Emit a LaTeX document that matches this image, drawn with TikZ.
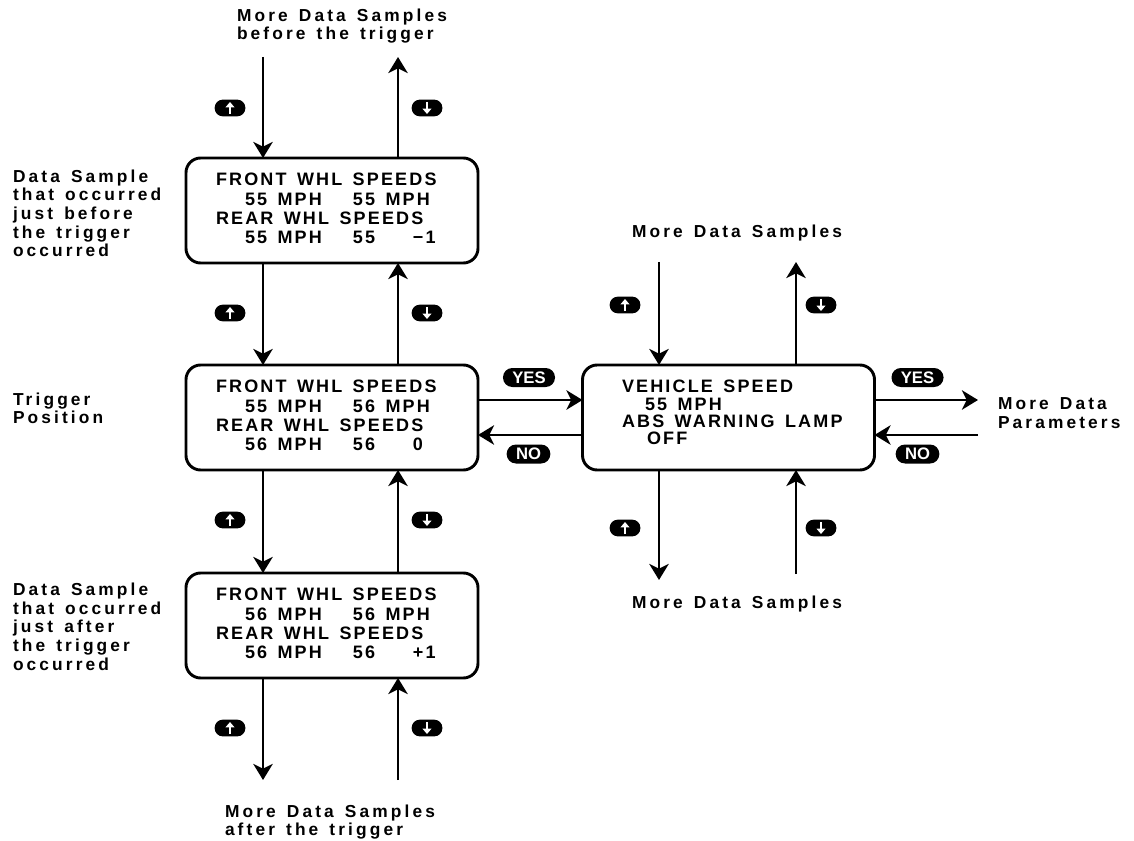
\documentclass[tikz,border=0pt]{standalone}
\usepackage{fontspec}
\usetikzlibrary{arrows.meta}
\newfontfamily\lcdfont{Liberation Sans}[LetterSpace=12,WordSpace=1.45]
\newfontfamily\notefont{Liberation Sans}[LetterSpace=18,WordSpace=1.4]
\newfontfamily\tagfont{Liberation Sans}
\setlength{\parindent}{0pt}
\definecolor{lcdInk}{HTML}{000000}
\tikzset{
  lcd diagram/.style={
    x=0.75pt, y=-0.75pt, line width=2.2pt, draw=lcdInk,
    >={Stealth[length=12pt,width=14.5pt,inset=3.5pt]},
    every node/.style={inner sep=0pt, outer sep=0pt, text=lcdInk}
  },
  lcd box/.style={draw=lcdInk, line width=2.2pt, rounded corners=11pt,
    minimum width=219pt, minimum height=78.75pt, align=left,
    font=\lcdfont\bfseries\fontsize{13.5}{14.5}\selectfont},
  lcd lamp/.style={lcd box,
    font=\lcdfont\bfseries\fontsize{13.5}{13.1}\selectfont},
  lcd note/.style={anchor=north west, align=left,
    font=\notefont\bfseries\fontsize{13}{14}\selectfont},
  lcd flow/.style={->, draw=lcdInk, line width=2.2pt},
  lcd key/.style={fill=lcdInk, rounded corners=6pt,
    minimum width=23pt, minimum height=12.5pt},
  up key/.style={lcd key, path picture={
      \draw[white, line width=1.9pt, -{Triangle[length=4pt,width=6.5pt]}]
        ([yshift=-4.5pt]path picture bounding box.center)
        -- ([yshift=4.5pt]path picture bounding box.center);}},
  down key/.style={lcd key, path picture={
      \draw[white, line width=1.9pt, -{Triangle[length=4pt,width=6.5pt]}]
        ([yshift=4.5pt]path picture bounding box.center)
        -- ([yshift=-4.5pt]path picture bounding box.center);}},
  lcd tag/.style={fill=lcdInk, text=white, rounded corners=7pt,
    minimum height=14.25pt, inner xsep=7pt,
    font=\tagfont\bfseries\fontsize{12.5}{12.5}\selectfont}
}
\newcommand{\WhlHead}[1]{\makebox[174pt][l]{#1}}
\newcommand{\WhlRow}[3]{\hspace*{21.75pt}\makebox[81pt][l]{#1}\makebox[45pt][l]{#2}#3}
\newcommand{\RowDepth}[1]{\rule[-#1]{0pt}{0pt}}

\begin{document}
\begin{tikzpicture}[lcd diagram]
    \useasboundingbox (0,0) rectangle (1134,841);
    \node[lcd box] (front1) at (332,210.5)
      {\WhlHead{FRONT WHL SPEEDS}\\\WhlRow{55 MPH}{55 MPH}{}\\REAR WHL SPEEDS\\\WhlRow{55 MPH}{55}{−1}\RowDepth{3pt}};
    \node[lcd box] (front2) at (332,417.5)
      {\WhlHead{FRONT WHL SPEEDS}\\\WhlRow{55 MPH}{56 MPH}{}\\REAR WHL SPEEDS\\\WhlRow{56 MPH}{56}{0}\RowDepth{3pt}};
    \node[lcd box] (front3) at (332,625.5)
      {\WhlHead{FRONT WHL SPEEDS}\\\WhlRow{56 MPH}{56 MPH}{}\\REAR WHL SPEEDS\\\WhlRow{56 MPH}{56}{+1}\RowDepth{3pt}};
    \node[lcd lamp] (lamp) at (728.5,417.5)
      {VEHICLE SPEED\\\hspace*{17.25pt}55 MPH\\\makebox[159.75pt][l]{ABS WARNING LAMP}\\\hspace*{18.75pt}OFF\RowDepth{7.5pt}};

    \node[lcd note] (noteBefore) at (237,8.5) {More Data Samples\\before the trigger};
    \node[lcd note] (noteAfter) at (225,804.5) {More Data Samples\\after the trigger};
    \node[lcd note] (noteSampleBefore) at (13,169.5)
      {Data Sample\\that occurred\\just before\\the trigger\\occurred};
    \node[lcd note] (noteTrigger) at (13,392.5) {Trigger\\Position};
    \node[lcd note] (noteSampleAfter) at (13,583)
      {Data Sample\\that occurred\\just after\\the trigger\\occurred};
    \node[lcd note] (noteMoreUp) at (632,224.5) {More Data Samples};
    \node[lcd note] (noteMoreDown) at (632,595.5) {More Data Samples};
    \node[lcd note] (noteParams) at (998,397.5) {More Data\\Parameters};

    \coordinate (topIn) at (263,57);
    \coordinate (topOut) at (398,57);
    \coordinate (botOut) at (263,780);
    \coordinate (botIn) at (398,780);
    \coordinate (lampIn) at (659,262);
    \coordinate (lampOut) at (796,262);
    \coordinate (lampDown) at (659,580);
    \coordinate (lampUp) at (796,574);
    \coordinate (moreOut) at (978,400);
    \coordinate (moreIn) at (978,435);
    \coordinate (yesRow) at (0,400);
    \coordinate (noRow) at (0,435);

    \draw[lcd flow] (topIn) -- (topIn |- front1.north);
    \draw[lcd flow] (front1.north -| topOut) -- (topOut);
    \draw[lcd flow] (front1.south -| topIn) -- (front2.north -| topIn);
    \draw[lcd flow] (front2.north -| topOut) -- (front1.south -| topOut);
    \draw[lcd flow] (front2.south -| topIn) -- (front3.north -| topIn);
    \draw[lcd flow] (front3.north -| topOut) -- (front2.south -| topOut);
    \draw[lcd flow] (front3.south -| botOut) -- (botOut);
    \draw[lcd flow] (botIn) -- (front3.south -| botIn);
    \draw[lcd flow] (lampIn) -- (lampIn |- lamp.north);
    \draw[lcd flow] (lamp.north -| lampOut) -- (lampOut);
    \draw[lcd flow] (lamp.south -| lampDown) -- (lampDown);
    \draw[lcd flow] (lampUp) -- (lamp.south -| lampUp);
    \draw[lcd flow] (front2.east |- yesRow) -- (lamp.west |- yesRow);
    \draw[lcd flow] (lamp.west |- noRow) -- (front2.east |- noRow);
    \draw[lcd flow] (lamp.east |- moreOut) -- (moreOut);
    \draw[lcd flow] (moreIn) -- (lamp.east |- moreIn);

    \node[up key] (upKey1) at (230,108) {};
    \node[down key] (downKey1) at (427,108) {};
    \node[up key] (upKey2) at (230,313) {};
    \node[down key] (downKey2) at (427,313) {};
    \node[up key] (upKey3) at (230,520) {};
    \node[down key] (downKey3) at (427,520) {};
    \node[up key] (upKey4) at (230,728) {};
    \node[down key] (downKey4) at (427,728) {};
    \node[up key] (upKeyLamp1) at (625,305) {};
    \node[down key] (downKeyLamp1) at (821,305) {};
    \node[up key] (upKeyLamp2) at (625,528) {};
    \node[down key] (downKeyLamp2) at (821,528) {};

    \node[lcd tag] (yesLeft) at (529,377.5) {YES};
    \node[lcd tag] (noLeft) at (528.5,454) {NO};
    \node[lcd tag] (yesRight) at (917.5,377.5) {YES};
    \node[lcd tag] (noRight) at (917.5,454) {NO};
  \end{tikzpicture}
\end{document}
